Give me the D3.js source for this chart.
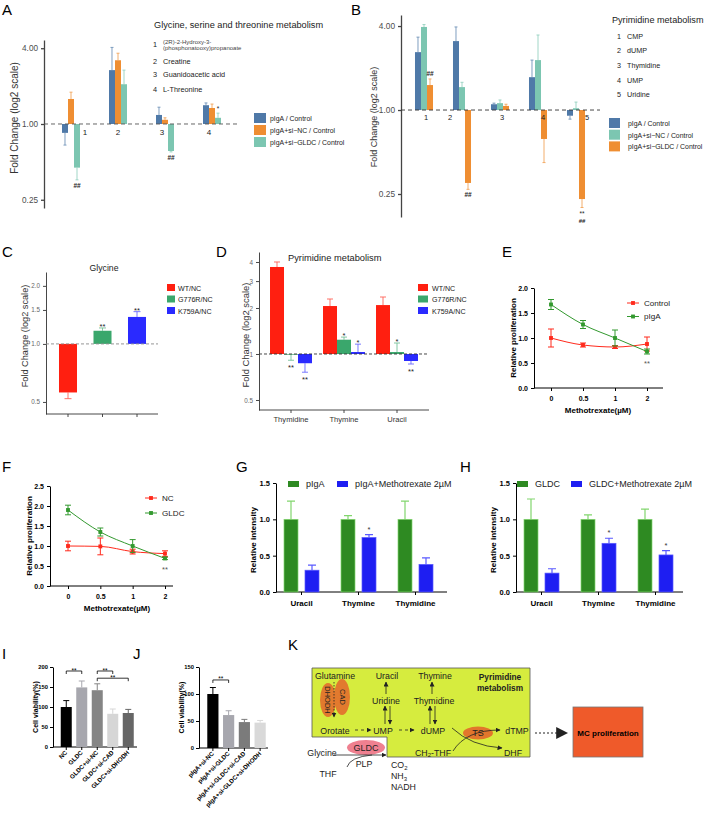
<!DOCTYPE html>
<html>
<head>
<meta charset="utf-8">
<title>GLDC and pyrimidine metabolism</title>
<script src="https://cdn.jsdelivr.net/npm/d3@7"></script>
<style>
    body { margin: 0; background: #fff; }
    svg { font-family: "Liberation Sans", Arial, sans-serif; }
</style>
</head>
<body>
<script>
// A - glycine, serine and threonine metabolism (fold change, log2)
var aGroups = ["1", "2", "3", "4"];
var aCompounds = [["(2R)-2-Hydroxy-3-", "(phosphonatooxy)propanoate"], ["Creatine"], ["Guanidoacetic acid"], ["L-Threonine"]];
var aSeries = ["pIgA / Control", "pIgA+si\u2212NC / Control", "pIgA+si\u2212GLDC / Control"];
var aValues = [[0.85, 1.58, 0.45], [2.68, 3.21, 2.07], [1.18, 1.08, 0.61], [1.41, 1.34, 1.12]];
var aErrors = [[0.68, 1.79, 0.36], [4.06, 3.65, 2.68], [1.36, 1.12, 0.60], [1.47, 1.44, 1.22]];
var aMarks = [["", "", "##"], ["", "", ""], ["", "", "##"], ["", "", "*"]];

// B - pyrimidine metabolism
var bGroups = ["1", "2", "3", "4", "5"];
var bCompounds = ["CMP", "dUMP", "Thymidine", "UMP", "Uridine"];
var bSeries = ["pIgA / Control", "pIgA+si\u2212NC / Control", "pIgA+si\u2212GLDC / Control"];
var bValues = [[2.6, 3.94, 1.51], [3.12, 1.46, 0.30], [1.10, 1.12, 1.07], [1.72, 2.28, 0.62], [0.91, 1.03, 0.23]];
var bErrors = [[3.33, 4.1, 1.67], [3.94, 1.58, 0.27], [1.12, 1.18, 1.10], [2.28, 3.45, 0.42], [0.86, 1.14, 0.20]];
var bMarks = [["", "", "##"], ["", "", "##"], ["", "", ""], ["", "", ""], ["", "", "**|##"]];

// C - glycine in GLDC mutants
var cGroups = ["WT/NC", "G776R/NC", "K759A/NC"];
var cValues = [0.56, 1.17, 1.38];
var cErrors = [0.52, 1.21, 1.47];
var cMarks = ["", "**", "**"];

// D - pyrimidines in GLDC mutants
var dCategories = ["Thymidine", "Thymine", "Uracil"];
var dSeries = ["WT/NC", "G776R/NC", "K759A/NC"];
var dValues = [[3.71, 0.99, 0.87], [2.06, 1.24, 1.03], [2.09, 1.03, 0.90]];
var dErrors = [[4.0, 0.91, 0.76], [2.29, 1.29, 1.16], [2.36, 1.18, 0.86]];
var dMarks = [["", "**", "**"], ["", "*", "*"], ["", "*", "**"]];

// E, F - proliferation vs methotrexate
var doses = ["0", "0.5", "1", "2"];
var eControl = [1.0, 0.86, 0.82, 0.88], eControlSd = [0.18, 0.04, 0.03, 0.14];
var ePiga = [1.67, 1.27, 1.0, 0.73], ePigaSd = [0.10, 0.08, 0.16, 0.05];
var fNC = [1.0, 0.99, 0.86, 0.81], fNCSd = [0.12, 0.21, 0.06, 0.07];
var fGldc = [1.9, 1.35, 1.0, 0.69], fGldcSd = [0.12, 0.10, 0.16, 0.03];

// G, H - relative intensity
var metabolites = ["Uracil", "Thymine", "Thymidine"];
var gPiga = [1, 1, 1], gPigaSd = [0.25, 0.05, 0.25];
var gMtx = [0.30, 0.75, 0.38], gMtxSd = [0.07, 0.04, 0.09];
var gMarks = ["", "*", ""];
var hGldc = [1, 1, 1], hGldcSd = [0.28, 0.06, 0.14];
var hMtx = [0.26, 0.67, 0.51], hMtxSd = [0.06, 0.07, 0.06];
var hMarks = ["", "*", "*"];

// I, J - cell viability
var iGroups = ["NC", "GLDC", "GLDC+si-NC", "GLDC+si-CAD", "GLDC+si-DHODH"];
var iValues = [100, 149, 142, 83, 85];
var iSd = [16, 16, 16, 12, 9];
var iBrackets = [[0, 1, 190], [2, 3, 190], [2, 4, 172]];
var jGroups = ["pIgA+si-NC", "pIgA+si-GLDC", "pIgA+si-GLDC+si-CAD", "pIgA+si-GLDC+si-DHODH"];
var jValues = [100, 61, 48, 47];
var jSd = [12, 8, 5, 4];
var jBrackets = [[0, 1, 126]];

var svg = d3.select("body").append("svg").attr("width", 705).attr("height", 816);
svg.append("rect").attr("width", 705).attr("height", 816).attr("fill", "#fff");

var defs = svg.append("defs");
function marker(id, size) {
    defs.append("marker").attr("id", id).attr("viewBox", "0 0 10 10")
        .attr("refX", 9).attr("refY", 5)
        .attr("markerWidth", size).attr("markerHeight", size)
        .attr("markerUnits", "userSpaceOnUse").attr("orient", "auto")
      .append("path").attr("d", "M0,0 L10,5 L0,10 z").attr("fill", "#222");
}
marker("arr", 5);
marker("bigArr", 12);

function txt(g, s, x, y, size, opt) {
    opt = opt || {};
    var t = g.append("text").attr("x", x).attr("y", y).attr("font-size", size)
        .attr("fill", opt.fill || "#222").attr("text-anchor", opt.anchor || "start").text(s);
    if (opt.bold) t.attr("font-weight", "bold");
    if (opt.rotate) t.attr("transform", "rotate(" + opt.rotate + "," + x + "," + y + ")");
    return t;
}

function styleAxis(ax, s) {
    ax.attr("font-family", null).attr("font-size", s.size);
    ax.select(".domain").attr("stroke", s.color).attr("stroke-width", s.width);
    ax.selectAll(".tick line").attr("stroke", s.color).attr("stroke-width", s.width);
    ax.selectAll(".tick text").attr("fill", s.text).attr("font-weight", s.bold ? "bold" : null);
}

function lighter(c, t) { return d3.interpolateRgb(c, "#fff")(t); }

// panel letters
[["A", 2, 15], ["B", 351, 15], ["C", 2, 257], ["D", 216, 257], ["E", 502, 257],
 ["F", 2, 472], ["G", 236, 472], ["H", 460, 472], ["I", 2, 659], ["J", 133, 659], ["K", 288, 650]]
    .forEach(function (l) { txt(svg, l[0], l[1], l[2], 15, {fill: "#000"}); });

// ---------- fold change bars (log2) ----------
function foldBars(o) {
    var g = svg.append("g");
    var y = d3.scaleLog().base(2).domain(o.yDomain).range(o.yRange);
    var x = d3.scaleBand().domain(o.groups).range(o.xRange)
        .paddingInner(o.pad).paddingOuter(o.pad / 2);
    var xs = d3.scaleBand().domain(d3.range(o.values[0].length)).range([0, x.bandwidth()]);

    var ax = g.append("g").attr("transform", "translate(" + o.axisX + ",0)")
        .call(d3.axisLeft(y).tickValues(o.ticks).tickFormat(o.fmt).tickSize(3).tickSizeOuter(0));
    styleAxis(ax, o.axis);
    if (o.xAxisY != null) {
        var bx = g.append("g").attr("transform", "translate(0," + o.xAxisY + ")")
            .call(d3.axisBottom(x).tickSize(3).tickSizeOuter(0).tickPadding(4)
                .tickFormat(o.xLabels ? null : ""));
        bx.select(".domain").attr("d", "M" + o.axisX + ",0H" + o.xEnd);
        styleAxis(bx, o.xAxis || o.axis);
    }

    o.values.forEach(function (row, i) {
        row.forEach(function (v, j) {
            var col = o.colorByGroup ? o.colors[i] : o.colors[j];
            var left = x(o.groups[i]) + xs(j), w = xs.bandwidth(), cx = left + w / 2;
            var y0 = y(1), yv = y(v), ye = y(o.errors[i][j]);
            var ec = lighter(col, o.errLight);
            g.append("path")
                .attr("d", "M" + cx + "," + yv + "V" + ye + "M" + (cx - o.cap / 2) + "," + ye + "h" + o.cap)
                .attr("stroke", ec).attr("stroke-width", 0.9).attr("fill", "none");
            g.append("rect").attr("x", left).attr("y", Math.min(yv, y0))
                .attr("width", w).attr("height", Math.abs(yv - y0)).attr("fill", col);
            var m = o.marks[i][j];
            if (m) {
                // stacked marks go into one text element, one tspan per line
                var lines = m.split("|");
                var c0 = v >= 1 ? ye + o.markUp : ye + o.markDown;
                var t = g.append("text").attr("text-anchor", "middle").attr("font-size", o.markSize)
                    .attr("fill", "#222")
                    .attr("y", c0 + (lines[0].charAt(0) === "*" ? 0.5 : 0.36) * o.markSize);
                lines.forEach(function (s, k) {
                    var sp = t.append("tspan").attr("x", cx).text(s);
                    if (s.charAt(0) === "#") sp.attr("font-weight", "bold");
                    if (k > 0) sp.attr("dy", 7.6).attr("font-size", o.markSize - 0.5);
                });
            }
        });
    });

    g.append("line").attr("x1", o.axisX).attr("x2", o.dashTo).attr("y1", y(1)).attr("y2", y(1))
        .attr("stroke", o.dashColor).attr("stroke-width", 0.9).attr("stroke-dasharray", o.dash);
    return {g: g, x: x, y: y};
}

// A
var colA = ["#4f79a8", "#ef8e32", "#7cc6b1"];
var pa = foldBars({groups: aGroups, values: aValues, errors: aErrors, marks: aMarks, colors: colA,
    yDomain: [0.215, 4.65], yRange: [208, 40], xRange: [47.5, 235.5], pad: 0.617, axisX: 44,
    ticks: [0.25, 1, 4], fmt: d3.format(".2f"),
    axis: {size: 8.2, color: "#444", width: 1.3, text: "#4d4d4d"},
    cap: 3, errLight: 0.2, dashTo: 240, dash: "4,3", dashColor: "#555",
    markUp: -5.5, markDown: 5.5, markSize: 6.5});
[14, 0, -3, -3].forEach(function (dx, i) {
    txt(pa.g, aGroups[i], pa.x(aGroups[i]) + pa.x.bandwidth() / 2 + dx, 134.5, 8, {anchor: "middle"});
});
txt(pa.g, "Fold Change (log2 scale)", 18, 118, 10, {anchor: "middle", rotate: -90, fill: "#333"});
txt(pa.g, "Glycine, serine and threonine metabolism", 154, 28, 9.2);
aCompounds.forEach(function (c, i) {
    var by = [47, 63.5, 76.5, 91.5][i];
    txt(pa.g, aGroups[i], 153, by, 7.3);
    if (c.length > 1) {
        txt(pa.g, c[0], 163, by - 3, 6, {fill: "#444"});
        txt(pa.g, c[1], 163, by + 3, 6, {fill: "#444"});
    } else {
        txt(pa.g, c[0], 163, by, 7.3);
    }
});
aSeries.forEach(function (s, i) {
    pa.g.append("rect").attr("x", 254).attr("y", 113 + i * 12).attr("width", 12).attr("height", 10).attr("fill", colA[i]);
    txt(pa.g, s, 270, 120.8 + i * 12, 6.9);
});

// B
var colB = ["#4f79a8", "#7cc6b1", "#ef8e32"];
var pb = foldBars({groups: bGroups, values: bValues, errors: bErrors, marks: bMarks, colors: colB,
    yDomain: [0.171, 4.8], yRange: [217, 15], xRange: [405, 595], pad: 0.526, axisX: 401,
    ticks: [0.25, 1, 4], fmt: d3.format(".2f"),
    axis: {size: 8.3, color: "#444", width: 1.3, text: "#4d4d4d"},
    cap: 3, errLight: 0.2, dashTo: 600, dash: "4,3", dashColor: "#333",
    markUp: -5.5, markDown: 5, markSize: 6.5});
[2, -12, 2, 5, 11].forEach(function (dx, i) {
    txt(pb.g, bGroups[i], pb.x(bGroups[i]) + pb.x.bandwidth() / 2 + dx, 120, 7.5, {anchor: "middle"});
});
txt(pb.g, "Fold Change (log2 scale)", 377, 117, 9, {anchor: "middle", rotate: -90, fill: "#333"});
txt(pb.g, "Pyrimidine metabolism", 612, 23, 9.1);
bCompounds.forEach(function (c, i) {
    txt(pb.g, bGroups[i], 617, 38.5 + i * 14.7, 7.2);
    txt(pb.g, c, 627, 38.5 + i * 14.7, 7.2);
});
bSeries.forEach(function (s, i) {
    pb.g.append("rect").attr("x", 609).attr("y", 118 + i * 11.7).attr("width", 11).attr("height", 10).attr("fill", colB[i]);
    txt(pb.g, s, 628, 125.8 + i * 11.7, 6.9);
});

// C
var colC = ["#ff1f10", "#3aa76c", "#2a2aff"];
var pc = foldBars({groups: cGroups, values: cValues.map(function (v) { return [v]; }),
    errors: cErrors.map(function (v) { return [v]; }), marks: cMarks.map(function (m) { return [m]; }),
    colors: colC, colorByGroup: true,
    yDomain: [0.433, 2.36], yRange: [414, 272], xRange: [50.75, 154.25], pad: 0.478, axisX: 46,
    ticks: [0.5, 1, 1.5, 2], fmt: d3.format(".1f"),
    axis: {size: 6.3, color: "#333", width: 0.9, text: "#666"},
    xAxisY: 414, xEnd: 158, xLabels: false,
    cap: 7, errLight: 0.3, dashTo: 158, dash: "3,2", dashColor: "#888",
    markUp: -2.5, markDown: 6, markSize: 7.5});
txt(pc.g, "Glycine", 104, 271, 8.7, {anchor: "middle"});
txt(pc.g, "Fold Change (log2 scale)", 28, 336, 9.2, {anchor: "middle", rotate: -90, fill: "#333"});
cGroups.forEach(function (s, i) {
    pc.g.append("rect").attr("x", 167).attr("y", 284 + i * 11.5).attr("width", 8).attr("height", 7).attr("fill", colC[i]);
    txt(pc.g, s, 178, 290.5 + i * 11.5, 7.1);
});

// D
var pd = foldBars({groups: dCategories, values: dValues, errors: dErrors, marks: dMarks, colors: colC,
    yDomain: [0.43, 4.65], yRange: [410, 252], xRange: [264.5, 423.5], pad: 0.208, axisX: 259,
    ticks: [0.5, 1, 2, 3, 4], fmt: d3.format("~g"),
    axis: {size: 6.3, color: "#333", width: 0.9, text: "#666"},
    xAxis: {size: 7.6, color: "#333", width: 0.9, text: "#333"},
    xAxisY: 410, xEnd: 429, xLabels: true,
    cap: 6, errLight: 0.3, dashTo: 429, dash: "3,2", dashColor: "#333",
    markUp: -2.5, markDown: 6, markSize: 7.5});
txt(pd.g, "Pyrimidine metabolism", 288, 261, 9.3);
txt(pd.g, "Fold Change (log2 scale)", 249, 335, 9.4, {anchor: "middle", rotate: -90, fill: "#333"});
dSeries.forEach(function (s, i) {
    pd.g.append("rect").attr("x", 418).attr("y", 284 + i * 11.5).attr("width", 10).attr("height", 7).attr("fill", colC[i]);
    txt(pd.g, s, 432, 290.5 + i * 11.5, 7.1);
});

// ---------- GraphPad style panels ----------
var gp = {size: 7, color: "#000", width: 1, text: "#000", bold: true};

function doseLines(o) {
    var g = svg.append("g");
    var x = d3.scalePoint().domain(doses).range(o.xRange);
    var y = d3.scaleLinear().domain(o.yDomain).range(o.yRange);
    var ay = g.append("g").attr("transform", "translate(" + o.axisX + ",0)")
        .call(d3.axisLeft(y).tickValues(o.yTicks).tickFormat(d3.format(".1f")).tickSize(3).tickSizeOuter(0));
    styleAxis(ay, gp);
    var ab = g.append("g").attr("transform", "translate(0," + o.yRange[0] + ")")
        .call(d3.axisBottom(x).tickSize(3).tickSizeOuter(0).tickPadding(5));
    ab.select(".domain").attr("d", "M" + o.axisX + ",0H" + o.xEnd);
    styleAxis(ab, gp);

    var line = d3.line().x(function (d, i) { return x(doses[i]); }).y(function (d) { return y(d); })
        .curve(d3.curveMonotoneX);
    var sym = d3.symbol().type(d3.symbolSquare).size(15);
    o.series.forEach(function (s, k) {
        g.append("path").attr("d", line(s.values)).attr("fill", "none").attr("stroke", s.color).attr("stroke-width", 1);
        s.values.forEach(function (v, i) {
            var cx = x(doses[i]), lo = y(v - s.sd[i]), hi = y(v + s.sd[i]);
            g.append("path")
                .attr("d", "M" + cx + "," + lo + "V" + hi + "M" + (cx - 3) + "," + lo + "h6M" + (cx - 3) + "," + hi + "h6")
                .attr("stroke", s.color).attr("stroke-width", 1).attr("fill", "none");
            g.append("path").attr("transform", "translate(" + cx + "," + y(v) + ")").attr("d", sym()).attr("fill", s.color);
        });
        var ly = o.legendY + k * o.legendStep;
        g.append("line").attr("x1", o.legendX).attr("x2", o.legendX + 12).attr("y1", ly).attr("y2", ly)
            .attr("stroke", s.color).attr("stroke-width", 1);
        g.append("path").attr("transform", "translate(" + (o.legendX + 6) + "," + ly + ")").attr("d", sym()).attr("fill", s.color);
        txt(g, s.name, o.legendX + 17, ly + 2.9, 8.1);
    });
    var last = o.series[1];
    txt(g, "**", x(doses[3]), y(last.values[3] - last.sd[3]) + 12, 7.5, {anchor: "middle", fill: "#555"});
    txt(g, "Methotrexate(\u00b5M)", o.titleX, o.yRange[0] + 25, 8, {anchor: "middle", bold: true, fill: "#000"});
    txt(g, "Relative proliferation", o.axisX - 18, (o.yRange[0] + o.yRange[1]) / 2, 8,
        {anchor: "middle", bold: true, rotate: -90, fill: "#000"});
}

doseLines({xRange: [551, 647], axisX: 534, xEnd: 663, yDomain: [0, 2], yRange: [388, 288],
    yTicks: [0, 0.5, 1, 1.5, 2], titleX: 598, legendX: 627, legendY: 303, legendStep: 13.5,
    series: [{name: "Control", values: eControl, sd: eControlSd, color: "#ff2a1c"},
             {name: "pIgA", values: ePiga, sd: ePigaSd, color: "#33992f"}]});

doseLines({xRange: [68, 165], axisX: 50, xEnd: 173, yDomain: [0, 2.5], yRange: [586, 486],
    yTicks: [0, 0.5, 1, 1.5, 2, 2.5], titleX: 117, legendX: 145, legendY: 498, legendStep: 15,
    series: [{name: "NC", values: fNC, sd: fNCSd, color: "#ff2a1c"},
             {name: "GLDC", values: fGldc, sd: fGldcSd, color: "#33992f"}]});

function intensityBars(o) {
    var g = svg.append("g");
    var x = d3.scaleBand().domain(metabolites).range(o.xRange).paddingInner(0.386).paddingOuter(0.193);
    var xs = d3.scaleBand().domain([0, 1]).range([0, x.bandwidth()]).paddingInner(1 / 3);
    var y = d3.scaleLinear().domain([0, 1.5]).range([592, 483]);
    var ay = g.append("g").attr("transform", "translate(" + o.axisX + ",0)")
        .call(d3.axisLeft(y).tickValues([0, 0.5, 1, 1.5]).tickFormat(d3.format(".1f")).tickSize(3).tickSizeOuter(0));
    styleAxis(ay, {size: 7.5, color: "#000", width: 1, text: "#000", bold: true});
    var ab = g.append("g").attr("transform", "translate(0,592)")
        .call(d3.axisBottom(x).tickSize(3).tickSizeOuter(0).tickPadding(5));
    ab.select(".domain").attr("d", "M" + o.axisX + ",0H" + o.xEnd);
    styleAxis(ab, {size: 8, color: "#000", width: 1, text: "#000", bold: true});

    var fills = ["#2e8a22", "#1e1ef2"], edges = ["#82d66e", "#5a5aff"];
    [o.ctrl, o.mtx].forEach(function (s, j) {
        s.values.forEach(function (v, i) {
            var left = x(metabolites[i]) + xs(j), w = xs.bandwidth(), cx = left + w / 2;
            var top = y(v + s.sd[i]);
            g.append("path").attr("d", "M" + cx + "," + y(v) + "V" + top + "M" + (cx - 4) + "," + top + "h8")
                .attr("stroke", edges[j]).attr("stroke-width", 1.2).attr("fill", "none");
            g.append("rect").attr("x", left).attr("y", y(v)).attr("width", w).attr("height", y(0) - y(v))
                .attr("fill", fills[j]).attr("stroke", edges[j]).attr("stroke-width", 0.7);
            if (j === 1 && o.marks[i]) txt(g, o.marks[i], cx, top - 3, 7.5, {anchor: "middle", fill: "#333"});
        });
        g.append("rect").attr("x", o.legendX[j]).attr("y", 481).attr("width", 11).attr("height", 6).attr("fill", fills[j]);
        txt(g, s.name, o.legendX[j] + 18, 487, 9);
    });
    txt(g, "Relative intensity", o.axisX - 20, 540, 8, {anchor: "middle", bold: true, rotate: -90, fill: "#000"});
}

intensityBars({xRange: [273, 444], axisX: 276, xEnd: 447, marks: gMarks, legendX: [288, 337],
    ctrl: {name: "pIgA", values: gPiga, sd: gPigaSd},
    mtx: {name: "pIgA+Methotrexate 2\u00b5M", values: gMtx, sd: gMtxSd}});
intensityBars({xRange: [513, 684], axisX: 516, xEnd: 683, marks: hMarks, legendX: [517, 571],
    ctrl: {name: "GLDC", values: hGldc, sd: hGldcSd},
    mtx: {name: "GLDC+Methotrexate 2\u00b5M", values: hMtx, sd: hMtxSd}});

function viability(o) {
    var g = svg.append("g");
    var x = d3.scaleBand().domain(o.groups).range(o.xRange).paddingInner(0.29).paddingOuter(0.145);
    var y = d3.scaleLinear().domain(o.yDomain).range(o.yRange);
    var ay = g.append("g").attr("transform", "translate(" + o.axisX + ",0)")
        .call(d3.axisLeft(y).tickValues(o.yTicks).tickSize(3).tickSizeOuter(0).tickPadding(2));
    styleAxis(ay, {size: 5.8, color: "#000", width: 1, text: "#000", bold: true});
    var ab = g.append("g").attr("transform", "translate(0," + o.yRange[0] + ")")
        .call(d3.axisBottom(x).tickSize(3).tickSizeOuter(0).tickFormat(""));
    ab.select(".domain").attr("d", "M" + o.axisX + ",0H" + o.xEnd);
    styleAxis(ab, gp);

    o.values.forEach(function (v, i) {
        var left = x(o.groups[i]), w = x.bandwidth(), cx = left + w / 2, top = y(v + o.sd[i]);
        g.append("path").attr("d", "M" + cx + "," + y(v) + "V" + top + "M" + (cx - 3) + "," + top + "h6")
            .attr("stroke", o.colors[i]).attr("stroke-width", 1).attr("fill", "none");
        g.append("rect").attr("x", left).attr("y", y(v)).attr("width", w).attr("height", y(0) - y(v)).attr("fill", o.colors[i]);
        txt(g, o.groups[i], cx + 1.5, o.yRange[0] + 6, o.labelSize, {anchor: "end", bold: true, rotate: -45, fill: "#000"});
    });
    o.brackets.forEach(function (b) {
        var x1 = x(o.groups[b[0]]) + x.bandwidth() / 2, x2 = x(o.groups[b[1]]) + x.bandwidth() / 2, by = y(b[2]);
        g.append("path").attr("d", "M" + x1 + "," + (by + 3) + "V" + by + "H" + x2 + "V" + (by + 3))
            .attr("stroke", "#000").attr("stroke-width", 0.8).attr("fill", "none");
        txt(g, "**", (x1 + x2) / 2, by + 1.5, 6.5, {anchor: "middle", fill: "#000"});
    });
    txt(g, "Cell viability(%)", o.axisX - 15.5, (o.yRange[0] + o.yRange[1]) / 2, 7,
        {anchor: "middle", bold: true, rotate: -90, fill: "#000"});
}

viability({groups: iGroups, values: iValues, sd: iSd, brackets: iBrackets, labelSize: 6.2,
    colors: ["#000000", "#a7a7ae", "#858585", "#d6d6d6", "#666666"],
    xRange: [58.5, 136], axisX: 53, xEnd: 137, yDomain: [0, 200], yRange: [747, 667], yTicks: [0, 50, 100, 150, 200]});
viability({groups: jGroups, values: jValues, sd: jSd, brackets: jBrackets, labelSize: 6.2,
    colors: ["#000000", "#a7a7ae", "#7b7b7b", "#d9d9d9"],
    xRange: [205, 268], axisX: 199, xEnd: 268, yDomain: [0, 150], yRange: [748, 667], yTicks: [0, 50, 100, 150]});

// ---------- K: pathway diagram ----------
var k = svg.append("g");
k.append("path").attr("d", "M312,668H530V757H387V737H312Z")
    .attr("fill", "#d6ec3e").attr("stroke", "#555").attr("stroke-width", 0.8);

function arrow(d, dashed) {
    var p = k.append("path").attr("d", d).attr("fill", "none").attr("stroke", "#222")
        .attr("stroke-width", 0.8).attr("marker-end", "url(#arr)");
    if (dashed) p.attr("stroke-dasharray", dashed);
    return p;
}
// enzymes
k.append("ellipse").attr("cx", 328).attr("cy", 700).attr("rx", 8).attr("ry", 17).attr("fill", "#e27a2e");
k.append("ellipse").attr("cx", 342).attr("cy", 697).attr("rx", 8).attr("ry", 18).attr("fill", "#e27a2e");
k.append("ellipse").attr("cx", 366).attr("cy", 747.5).attr("rx", 19).attr("ry", 7.5).attr("fill", "#ef8090");
k.append("ellipse").attr("cx", 478).attr("cy", 733).attr("rx", 15).attr("ry", 6.5).attr("fill", "#e2762c");
txt(k, "DHODH", 325, 700, 7.5, {anchor: "middle", rotate: 90});
txt(k, "CAD", 339.5, 697, 7.5, {anchor: "middle", rotate: 90});
txt(k, "GLDC", 366, 750.7, 9, {anchor: "middle"});
txt(k, "TS", 478, 736.2, 9, {anchor: "middle"});

// arrows
arrow("M334,682V717", "1.5,1.5");
arrow("M355,730H371", "3,3");
arrow("M399,730H414", "3,3");
arrow("M386,694V682");
arrow("M432,694V682");
arrow("M385,724V706");
arrow("M390,706V724");
arrow("M430,724V706");
arrow("M435,706V724");
arrow("M452,728Q471,746 502,748");
arrow("M453,751Q466,730 500,730");
arrow("M334,755H386");
k.append("path").attr("d", "M347,767Q350,757 372,755").attr("fill", "none").attr("stroke", "#222").attr("stroke-width", 0.8);
arrow("M535,733H567", "2,2").attr("marker-end", "url(#bigArr)").attr("stroke-width", 1);

// labels
[["Glutamine", 335, 679], ["Uracil", 387, 679], ["Thymine", 435, 679],
 ["Uridine", 386, 704], ["Thymidine", 434, 704],
 ["Orotate", 335, 733.5], ["UMP", 383, 733.5], ["dUMP", 433, 733.5], ["dTMP", 517, 733.5],
 ["DHF", 513, 755.5], ["Glycine", 322, 755.5], ["THF", 328, 776.5], ["PLP", 364, 766.5]]
    .forEach(function (t) { txt(k, t[0], t[1], t[2], 8.8, {anchor: "middle"}); });
txt(k, "Pyrimidine", 500, 680, 8.3, {anchor: "middle", bold: true});
txt(k, "metabolism", 500, 690.5, 8.3, {anchor: "middle", bold: true});

function sub(x, y, parts, anchor) {
    var t = k.append("text").attr("x", x).attr("y", y).attr("font-size", 8.8).attr("fill", "#222")
        .attr("text-anchor", anchor || "start");
    parts.forEach(function (p, i) {
        var s = t.append("tspan").text(p);
        if (i % 2 === 1) s.attr("font-size", 6).attr("dy", 1.5);
        else if (i > 0) s.attr("dy", -1.5);
    });
}
sub(433, 755.5, ["CH", "2", "-THF"], "middle");
sub(391, 768, ["CO", "2"]);
sub(391, 779, ["NH", "3"]);
txt(k, "NADH", 391, 790, 8.8);

k.append("rect").attr("x", 573).attr("y", 707).attr("width", 70).attr("height", 50)
    .attr("fill", "#ef5a2a").attr("stroke", "#777").attr("stroke-width", 0.8);
txt(k, "MC proliferation", 608, 735.5, 8, {anchor: "middle", bold: true, fill: "#000"});
</script>
</body>
</html>
